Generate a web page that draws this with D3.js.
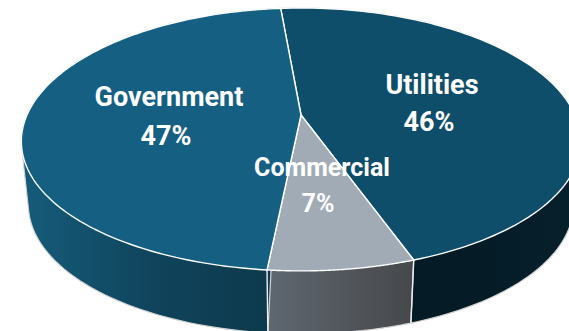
<!DOCTYPE html>
<html>
<head>
<meta charset="utf-8">
<script src="https://cdnjs.cloudflare.com/ajax/libs/d3/7.8.5/d3.min.js"></script>
<style>
html,body{margin:0;padding:0;background:#fff;overflow:hidden}
svg{display:block}
text{font-family:Roboto,sans-serif;font-weight:700;fill:#fff;text-anchor:middle}
</style>
</head>
<body>
<script>
// Sector shares, in drawing order clockwise from the top
const categories = ["Utilities", "Commercial", "Government"];
const shares = [46, 7, 47];
const shareLabels = ["46%", "7%", "47%"];

// Surface colours per sector
const topColors = ["#0f4e6a", "#a0abb6", "#156082"];
const wallStops = [
  ["#08222f", "#051a25", "#051c27", "#06202c"],
  ["#5f6770", "#46484b"],
  ["#155c7b", "#10445c", "#0c384b"]
];

// Label centres (name and value lines) and type size
const labelX = [[432, 429], [322, 318], [169, 166]];
const labelY = [[84, 121], [167, 203], [96, 135]];
const labelSize = [27, 25, 27];

const W = 569, H = 331;
const apex = {x: 301, y: 115};
const keystoneX = -0.2, keystoneY = -0.186;   // tilted-disc projection
const spanX = 274, spanY = 126.9;
const wallDrop = 63, wallShrink = 0.975;
const startDeg = -5.1;
const tau = 2 * Math.PI;

const svg = d3.select("body").append("svg").attr("width", W).attr("height", H);
const defs = svg.append("defs");

const pie = d3.pie().sort(null)
  .startAngle(startDeg * Math.PI / 180)
  .endAngle(startDeg * Math.PI / 180 + tau)(shares);

// Disc coordinates to the page: the near edge is drawn larger than the far edge
const unitX = d3.scaleLinear().domain([-1, 1]).range([apex.x - spanX, apex.x + spanX]);
const unitY = d3.scaleLinear().domain([-1, 1]).range([apex.y - spanY, apex.y + spanY]);
function rimPoint(a) {
  const u = Math.sin(a), v = -Math.cos(a);
  return [apex.x + (unitX(u) - apex.x) / (1 + keystoneX * v),
          apex.y + (unitY(v) - apex.y) / (1 + keystoneY * v)];
}
function lowerPoint(a) {
  const [x, y] = rimPoint(a);
  return [apex.x + (x - apex.x) * wallShrink, y + wallDrop];
}
const arcAngles = (a0, a1) => d3.range(0, 121).map(i => a0 + (a1 - a0) * i / 120);
const line = d3.line();

// Walls first, each as the hull of its rim and its lower rim
const walls = svg.append("g");
pie.forEach((s, i) => {
  const angles = arcAngles(s.startAngle, s.endAngle);
  const hull = d3.polygonHull(angles.map(rimPoint).concat(angles.map(lowerPoint)));
  const xs = hull.map(p => p[0]);
  const id = "wall" + i;
  const grad = defs.append("linearGradient").attr("id", id)
    .attr("gradientUnits", "userSpaceOnUse")
    .attr("x1", d3.min(xs)).attr("x2", d3.max(xs)).attr("y1", 0).attr("y2", 0);
  wallStops[i].forEach((c, k) => grad.append("stop")
    .attr("offset", k / (wallStops[i].length - 1)).attr("stop-color", c));
  walls.append("path")
    .attr("d", line(hull) + "Z")
    .attr("fill", `url(#${id})`)
    .attr("stroke", "#d4d4d4").attr("stroke-width", 1.2).attr("stroke-linejoin", "round");
});
// Seams up the front of the wall where sectors meet
pie.slice(0, 2).forEach(s => walls.append("path")
  .attr("d", line([rimPoint(s.endAngle), lowerPoint(s.endAngle)]))
  .attr("stroke", "#f0f0f0").attr("stroke-width", 1.4).attr("fill", "none"));

// Top faces
const faces = svg.append("g");
pie.forEach((s, i) => {
  const rim = arcAngles(s.startAngle, s.endAngle).map(rimPoint);
  faces.append("path")
    .attr("d", line([[apex.x, apex.y], ...rim]) + "Z")
    .attr("fill", topColors[i])
    .attr("stroke", "#fff").attr("stroke-width", 1.4).attr("stroke-linejoin", "round");
});

// Labels
const labels = svg.append("g");
categories.forEach((name, i) => {
  labels.append("text").attr("x", labelX[i][0]).attr("y", labelY[i][0])
    .attr("dy", "0.36em").attr("font-size", labelSize[i]).text(name);
  labels.append("text").attr("x", labelX[i][1]).attr("y", labelY[i][1])
    .attr("dy", "0.36em").attr("font-size", labelSize[i]).text(shareLabels[i]);
});
</script>
</body>
</html>
